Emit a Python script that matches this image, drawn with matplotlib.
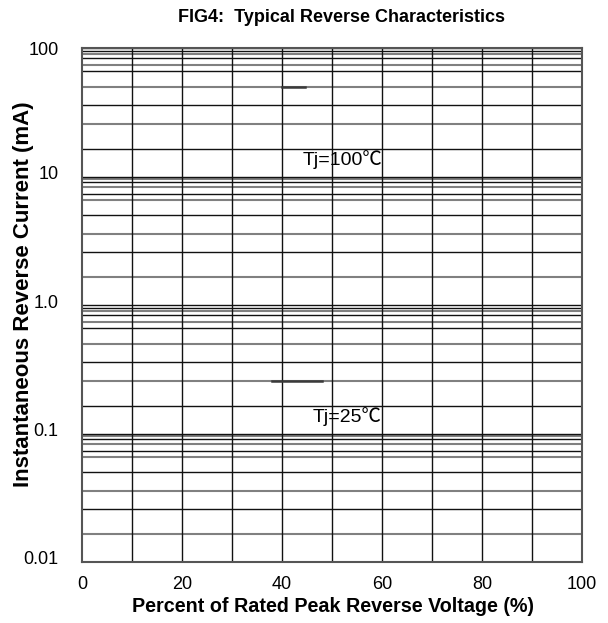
"""FIG4 typical reverse characteristics, redrawn as an empty log grid."""

import matplotlib

matplotlib.use("Agg")
import matplotlib.pyplot as plt
from matplotlib.transforms import ScaledTranslation

# data
x_ticks = [0, 20, 40, 60, 80, 100]
x_grid = [10, 20, 30, 40, 50, 60, 70, 80, 90]
y_ticks = [0.01, 0.1, 1, 10, 100]
y_tick_labels = ["0.01", "0.1", "1.0", "10", "100"]
decade_bottoms = [10, 1, 0.1, 0.01]
minor_multipliers = [9.5, 9.0, 8.3, 7.35, 6.6, 5.0, 3.57, 2.57, 1.65]
segment_x = [[40, 44.5], [38, 48]]
segment_y = [[50, 50], [0.257, 0.257]]
curve_labels = ["Tj=100\u2103", "Tj=25\u2103"]
curve_label_x = [44.2, 46.2]
curve_label_y = [13.5, 0.1355]

SANS = ["Liberation Sans", "Noto Sans CJK SC", "DejaVu Sans"]

fig = plt.figure(figsize=(6.08, 6.23), dpi=100)
ax = fig.add_axes([82 / 608, 61 / 623, 500 / 608, 514 / 623])
ax.set_yscale("log")
ax.set_xlim(0, 100)
ax.set_ylim(0.01, 100)

for d, base in enumerate(decade_bottoms):
    for i, m in enumerate(minor_multipliers):
        gray = (i + d) % 2 == 1
        ax.axhline(base * m, color="#808080" if gray else "#111111", lw=1.5 if gray else 1.0, zorder=1)
    ax.axhline(base * 10, color="#111111", lw=1.0, zorder=1)
for xv in x_grid:
    ax.axvline(xv, color="#111111", lw=1.0, zorder=1)

for xs, ys in zip(segment_x, segment_y):
    ax.plot(xs, ys, color="#3a3a3a", lw=1.8, zorder=2)

for text, tx, ty in zip(curve_labels, curve_label_x, curve_label_y):
    ax.text(tx, ty, text, fontsize=14, family=SANS, ha="left", va="center", zorder=3)

ax.set_xticks(x_ticks)
ax.set_xticklabels([str(v) for v in x_ticks], family=SANS, fontsize=13)
ax.set_yticks(y_ticks)
ax.set_yticklabels(y_tick_labels, family=SANS, fontsize=13)
ax.minorticks_off()
ax.tick_params(axis="x", length=0, pad=10)
ax.tick_params(axis="y", length=0, pad=17)
# the reference prints the y labels a little above their lines
shift = ScaledTranslation(0, 4 / 100, fig.dpi_scale_trans)
for lbl in ax.get_yticklabels()[:-1]:
    lbl.set_transform(lbl.get_transform() + shift)

for side in ("left", "right", "top", "bottom"):
    ax.spines[side].set_color("#555555")
    ax.spines[side].set_linewidth(1.5)

fig.text(341.7 / 608, 1 - 18 / 623, "FIG4:  Typical Reverse Characteristics",
         fontsize=13, fontweight="bold", family=SANS, ha="center", va="center")
fig.text(333 / 608, 1 - 607 / 623, "Percent of Rated Peak Reverse Voltage (%)",
         fontsize=14.2, fontweight="bold", family=SANS, ha="center", va="center")
fig.text(24 / 608, 1 - 294 / 623, "Instantaneous Reverse Current (mA)",
         fontsize=16, fontweight="bold", family=SANS, ha="center", va="center", rotation=90)

fig.savefig("out.png", dpi=100)
plt.close(fig)
